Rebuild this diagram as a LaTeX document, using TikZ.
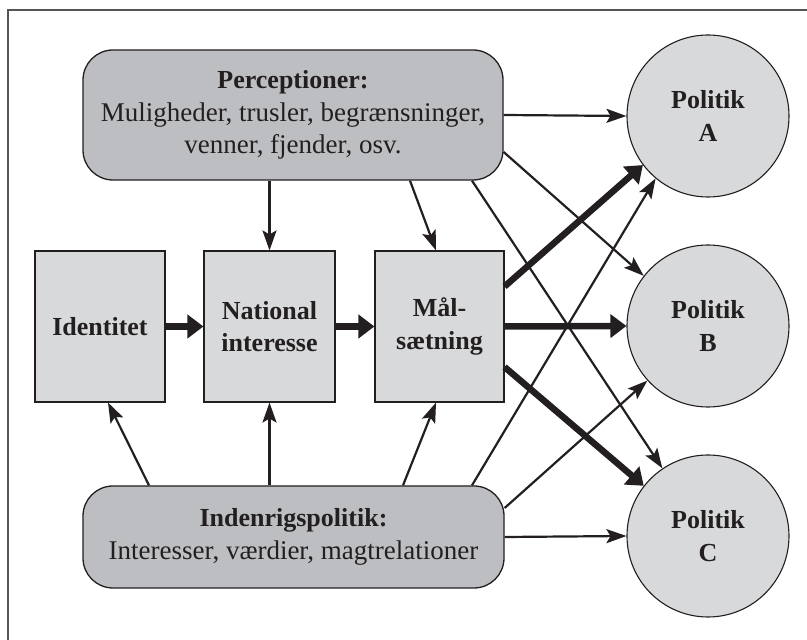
\documentclass[tikz,border=0pt]{standalone}
\usepackage{fontspec}
\setmainfont{Liberation Serif}
\usetikzlibrary{arrows.meta,calc}
\definecolor{dkgray}{RGB}{189,190,193}
\definecolor{ltgray}{RGB}{216,217,219}
\definecolor{framegray}{RGB}{85,85,85}
\definecolor{ink}{RGB}{35,31,32}
\newcommand{\hd}[1]{{\fontsize{26}{32.5}\selectfont\bfseries #1}}
\begin{document}
\begin{tikzpicture}[x=1pt,y=1pt,
  txt/.style={font=\fontsize{27}{32.5}\selectfont, text=ink, align=center},
  outerbox/.style={txt, draw=ink, line width=1.3pt, fill=dkgray, rounded corners=30pt, inner sep=0pt},
  midbox/.style={txt, font=\fontsize{26}{32.5}\selectfont\bfseries, draw=ink, line width=1.1pt, fill=ltgray, minimum width=130pt, minimum height=151pt, inner sep=0pt},
  polnode/.style={txt, font=\fontsize{26}{32.5}\selectfont\bfseries, circle, draw=ink, line width=1.1pt, fill=ltgray, minimum size=162pt, inner sep=0pt},
  thin/.style={draw=ink, line width=2.2pt, -{Stealth[length=20pt,width=14pt,inset=4pt]}},
  thick/.style={draw=ink, line width=6.5pt, -{Triangle[length=16pt,width=23pt]}},
  framestyle/.style={draw=framegray, line width=1.5pt}
]
\useasboundingbox (0,0) rectangle (807,640);
\draw[framestyle] (8,0) -- (8,630) -- (807,630);

\node[outerbox, minimum width=420pt, minimum height=130pt] (perc) at (293,525)
  {\hd{Perceptioner:}\\Muligheder, trusler, begrænsninger,\\venner, fjender, osv.};
\node[outerbox, minimum width=421pt, minimum height=102pt] (ind) at (293.5,103)
  {\hd{Indenrigspolitik:}\\Interesser, værdier, magtrelationer};

\node[midbox] (id) at (100,313.5) {Identitet};
\node[midbox, minimum width=131pt] (nat) at (269.5,313.5) {National\\interesse};
\node[midbox, minimum width=129pt] (mal) at (439.5,313.5) {Mål-\\sætning};

\node[polnode] (A) at (708,524) {Politik\\A};
\node[polnode] (B) at (708,314) {Politik\\B};
\node[polnode] (C) at (708,104) {Politik\\C};

% from Perceptioner
\draw[thin] (nat.north |- perc.south) -- (nat.north);
\draw[thin] ([xshift=117pt]perc.south) -- ([xshift=-3.5pt]mal.north);
\draw[thin] (perc.east) -- (A.west);
\draw[thin] ([yshift=-37pt]perc.east) -- (B.142);
\draw[thin] ([xshift=179pt]perc.south) -- (C.124);

% chain
\draw[thick] (id.east) -- (nat.west);
\draw[thick] (nat.east) -- (mal.west);
\draw[thick] ([yshift=40pt]mal.east) -- (A.217);
\draw[thick] (mal.east) -- (B.west);
\draw[thick] ([yshift=-40.5pt]mal.east) -- (C.142);

% from Indenrigspolitik
\draw[thin] ([xshift=-144.5pt]ind.north) -- ([xshift=8pt]id.south);
\draw[thin] (nat.south |- ind.north) -- (nat.south);
\draw[thin] ([xshift=109.5pt]ind.north) -- ([xshift=-3.5pt]mal.south);
\draw[thin] ([xshift=178.5pt]ind.north) -- (A.230);
\draw[thin] ([yshift=29pt]ind.east) -- (B.222);
\draw[thin] (ind.east) -- (C.west);
\end{tikzpicture}
\end{document}
